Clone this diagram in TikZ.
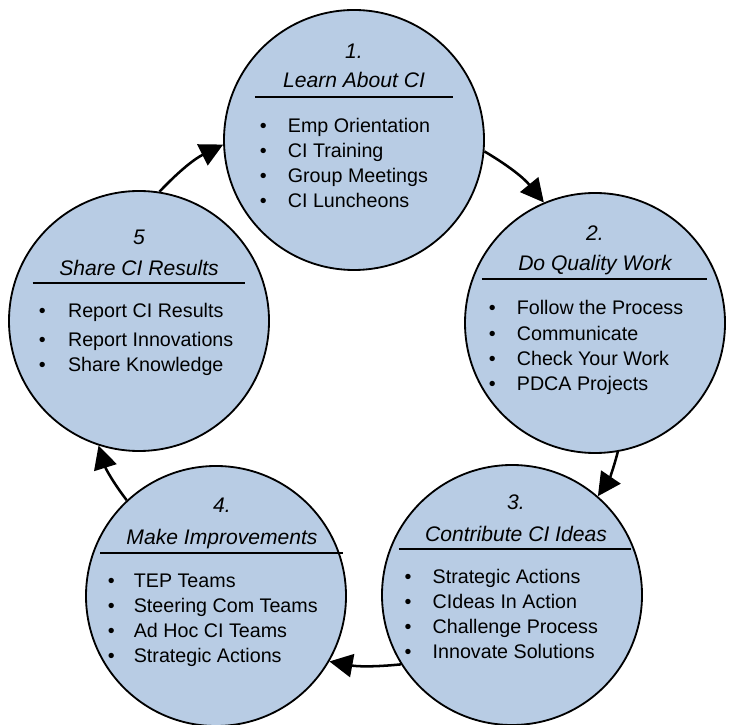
\documentclass[tikz,border=0pt]{standalone}
\usepackage{fontspec}
\setmainfont{Liberation Sans}
\usepackage[HTML]{xcolor}
\usepackage{tikz}
\usetikzlibrary{arrows.meta}

\definecolor{stagefill}{HTML}{B8CCE4}

\newcommand{\headfont}{\fontsize{15}{18}\selectfont\itshape}
\newcommand{\itemfont}{\fontsize{14}{17.8}\selectfont}

\begin{document}
\begin{tikzpicture}[
  stage/.style={circle, draw, line width=1.3pt, fill=stagefill, minimum size=6.5cm, inner sep=0pt},
  head/.style={anchor=base, inner sep=0pt, font=\headfont},
  items/.style={anchor=base west, inner sep=0pt, font=\itemfont},
  divider/.style={line width=1.6pt},
  flow/.style={->, line width=1.8pt},
  >={Triangle[length=0.58cm, width=0.58cm]}
]
\useasboundingbox (0,0) rectangle (18.225,18.1);

% the five stages
\node[stage] (s1) at (8.85,14.6) {};
\node[stage] (s2) at (14.875,10.025) {};
\node[stage] (s3) at (12.8,3.225) {};
\node[stage] (s4) at (5.4,3.2) {};
\node[stage] (s5) at (3.475,10.075) {};

% stage 1
\node[head] (s1-num) at ([yshift=2.03cm]s1.center) {1.};
\node[head] (s1-title) at ([yshift=1.3cm]s1.center) {Learn About CI};
\draw[divider] ([xshift=-2.48cm, yshift=1.08cm]s1.center) -- ([xshift=2.48cm, yshift=1.08cm]s1.center);
\node[items] (s1-list) at ([xshift=-2.36cm, yshift=0.18cm]s1.center) {%
  \begin{tabular}[t]{@{}p{0.7cm}@{}l@{}}
  \textbullet & Emp Orientation\\
  \textbullet & CI Training\\
  \textbullet & Group Meetings\\
  \textbullet & CI Luncheons
  \end{tabular}};

% stage 2
\node[head] (s2-num) at ([yshift=2.05cm]s2.center) {2.};
\node[head] (s2-title) at ([yshift=1.3cm]s2.center) {Do Quality Work};
\draw[divider] ([xshift=-2.83cm, yshift=1.1cm]s2.center) -- ([xshift=2.8cm, yshift=1.1cm]s2.center);
\node[items] (s2-list) at ([xshift=-2.66cm, yshift=0.2cm]s2.center) {%
  \begin{tabular}[t]{@{}p{0.7cm}@{}l@{}}
  \textbullet & Follow the Process\\
  \textbullet & Communicate\\
  \textbullet & Check Your Work\\
  \textbullet & PDCA Projects
  \end{tabular}};

% stage 3
\node[head] (s3-num) at ([xshift=0.1cm, yshift=2.13cm]s3.center) {3.};
\node[head] (s3-title) at ([xshift=0.1cm, yshift=1.35cm]s3.center) {Contribute CI Ideas};
\draw[divider] ([xshift=-2.83cm, yshift=1.15cm]s3.center) -- ([xshift=2.98cm, yshift=1.15cm]s3.center);
\node[items] (s3-list) at ([xshift=-2.69cm, yshift=0.3cm]s3.center) {%
  \begin{tabular}[t]{@{}p{0.7cm}@{}l@{}}
  \textbullet & Strategic Actions\\
  \textbullet & CIdeas In Action\\
  \textbullet & Challenge Process\\
  \textbullet & Innovate Solutions
  \end{tabular}};

% stage 4
\node[head] (s4-num) at ([xshift=0.15cm, yshift=2.08cm]s4.center) {4.};
\node[head] (s4-title) at ([xshift=0.15cm, yshift=1.28cm]s4.center) {Make Improvements};
\draw[divider] ([xshift=-2.9cm, yshift=1.08cm]s4.center) -- ([xshift=3.18cm, yshift=1.08cm]s4.center);
\node[items] (s4-list) at ([xshift=-2.71cm, yshift=0.22cm]s4.center) {%
  \begin{tabular}[t]{@{}p{0.65cm}@{}l@{}}
  \textbullet & TEP Teams\\
  \textbullet & Steering Com Teams\\
  \textbullet & Ad Hoc CI Teams\\
  \textbullet & Strategic Actions
  \end{tabular}};

% stage 5
\node[head] (s5-num) at ([yshift=1.9cm]s5.center) {5};
\node[head] (s5-title) at ([yshift=1.13cm]s5.center) {Share CI Results};
\draw[divider] ([xshift=-2.66cm, yshift=0.95cm]s5.center) -- ([xshift=2.66cm, yshift=0.95cm]s5.center);
\node[items] (s5-list) at ([xshift=-2.51cm, yshift=0.08cm]s5.center) {%
  \begin{tabular}[t]{@{}p{0.73cm}@{}l@{}}
  \textbullet & Report CI Results\\[0.1cm]
  \textbullet & Report Innovations\\
  \textbullet & Share Knowledge
  \end{tabular}};

% the cycle
\draw[flow] (s1.-5) to[bend left=10] (s2.113);
\draw[flow] (s2.-80) to[bend left=10] (s3.49);
\draw[flow] (s3.212) to[bend left=8] (s4.330);
\draw[flow] (s4.133) to[bend left=10] (s5.252);
\draw[flow] (s5.81) to[bend left=10] (s1.182);
\end{tikzpicture}
\end{document}
